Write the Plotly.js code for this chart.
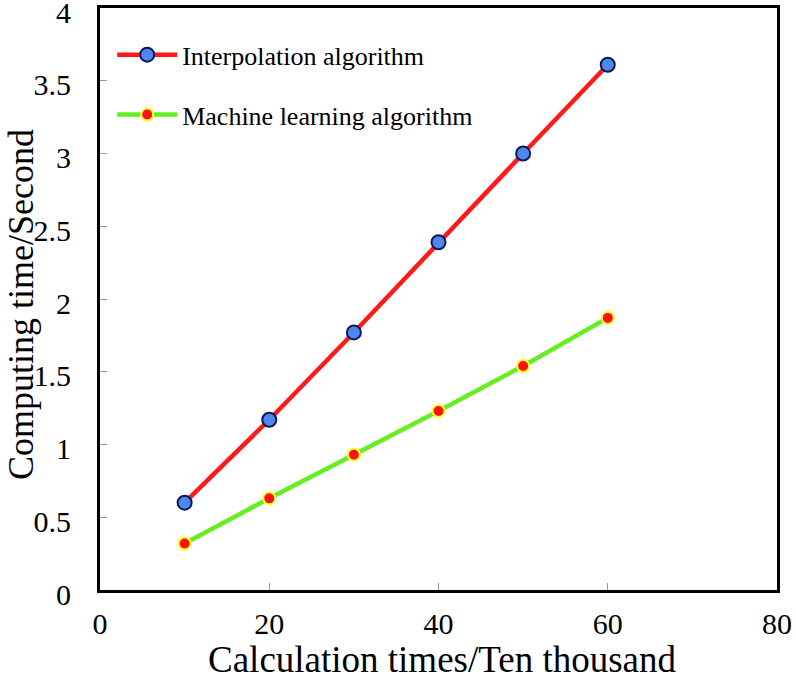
<!DOCTYPE html>
<html>
<head>
<meta charset="utf-8">
<script src="https://cdn.plot.ly/plotly-3.0.1.min.js"></script>
<style>html,body{margin:0;padding:0;background:#fff;}#chart{width:796px;height:675px;}</style>
</head>
<body>
<div id="chart"></div>
<script>
const xValues = [10, 20, 30, 40, 50, 60];
const interpolationTimes = [0.60, 1.17, 1.77, 2.39, 3.00, 3.61];
const mlTimes = [0.32, 0.63, 0.93, 1.23, 1.54, 1.87];
const seriesNames = ["Interpolation algorithm", "Machine learning algorithm"];
const xTicks = [0, 20, 40, 60, 80];
const yTicks = [0, 0.5, 1, 1.5, 2, 2.5, 3, 3.5, 4];
const xTitle = "Calculation times/Ten thousand";
const yTitle = "Computing time/Second";

const traces = [
  {
    x: xValues, y: interpolationTimes, name: seriesNames[0], type: "scatter", mode: "lines+markers",
    legendgroup: "a",
    line: {color: "#ff1a1a", width: 4.5},
    marker: {size: 14, color: "#4f86f0", line: {color: "#0d1a55", width: 2}}
  },
  {
    x: xValues, y: mlTimes, name: seriesNames[1], type: "scatter", mode: "lines+markers",
    legendgroup: "b",
    line: {color: "#66ee22", width: 4.5},
    marker: {size: 12, color: "#ff1010", line: {color: "#ffff22", width: 2}}
  }
];

const layout = {
  width: 796, height: 675,
  margin: {l: 100, r: 19, t: 8, b: 85},
  paper_bgcolor: "#fff", plot_bgcolor: "#fff",
  font: {family: "Liberation Serif, Times New Roman, serif", color: "#000"},
  showlegend: true,
  legend: {
    x: 0.018, y: 0.96, xanchor: "left", yanchor: "top",
    font: {size: 26, family: "Liberation Serif, serif", color: "#000"},
    bgcolor: "rgba(0,0,0,0)", traceorder: "grouped", tracegroupgap: 23,
    itemwidth: 60
  },
  xaxis: {
    range: [0, 80], tickvals: xTicks, ticktext: xTicks.map(String),
    showgrid: false, zeroline: false,
    showline: true, linecolor: "#000", linewidth: 3, mirror: true,
    ticks: "inside", ticklen: 7, tickcolor: "#999", tickwidth: 1,
    tickfont: {size: 30, family: "Liberation Serif, serif"},
    ticklabelstandoff: 5
  },
  yaxis: {
    range: [0, 4], tickvals: yTicks, ticktext: yTicks.map(String),
    showgrid: false, zeroline: false,
    showline: true, linecolor: "#000", linewidth: 3, mirror: true,
    ticks: "inside", ticklen: 7, tickcolor: "#999", tickwidth: 1,
    tickfont: {size: 30, family: "Liberation Serif, serif"},
    ticklabelstandoff: 20, ticklabelshift: 4, ticklabeloverflow: "allow"
  },
  annotations: [
    {
      text: xTitle, xref: "paper", yref: "paper", x: 0.506, y: -0.1186,
      xanchor: "center", yanchor: "middle", showarrow: false,
      font: {size: 37, family: "Liberation Serif, serif", color: "#000"}
    },
    {
      text: yTitle, xref: "paper", yref: "paper", x: -0.117, y: 0.491,
      xanchor: "center", yanchor: "middle", showarrow: false, textangle: -90,
      font: {size: 36, family: "Liberation Serif, serif", color: "#000"}
    }
  ]
};

Plotly.newPlot("chart", traces, layout, {displayModeBar: false, staticPlot: true});
</script>
</body>
</html>
